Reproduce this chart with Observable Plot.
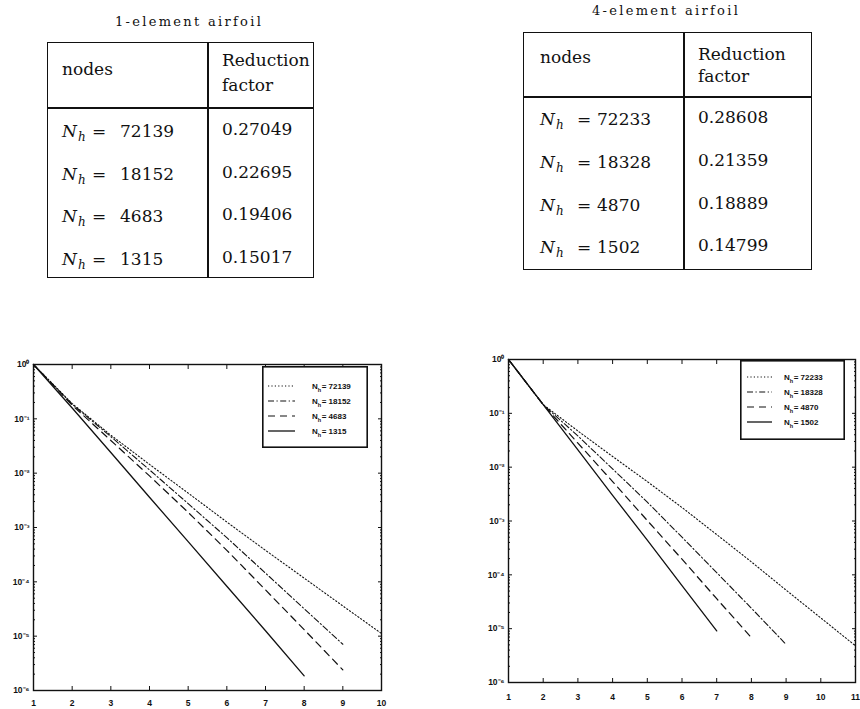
<!DOCTYPE html>
<html><head><meta charset="utf-8">
<script src="https://cdn.jsdelivr.net/npm/d3@7"></script>
<script src="https://cdn.jsdelivr.net/npm/@observablehq/plot@0.6"></script>
<style>
body{margin:0;background:#fff;width:860px;height:709px;position:relative;overflow:hidden;font-family:"DejaVu Serif",serif;color:#111}
.abs{position:absolute;white-space:nowrap;line-height:1}
.title{font-size:13px;letter-spacing:2.3px}
.cell{font-size:17px}
.sub{font-size:12px;font-style:italic;position:relative;top:4px;margin-left:1px}
.hl{position:absolute;background:#111}
.box{position:absolute;border:1.6px solid #111;box-sizing:border-box}
.plot{position:absolute}
</style></head>
<body>
<script>
// ---------- data ----------
const leftTitle = "1-element airfoil";
const rightTitle = "4-element airfoil";
const headNodes = "nodes";
const headFactor = ["Reduction", "factor"];
const leftNodes = [72139, 18152, 4683, 1315];
const leftFactors = ["0.27049", "0.22695", "0.19406", "0.15017"];
const rightNodes = [72233, 18328, 4870, 1502];
const rightFactors = ["0.28608", "0.21359", "0.18889", "0.14799"];

// residual histories (iteration 1, 2, 3, ...)
const left72139 = [1, 0.191, 0.050, 0.0145, 4.3e-3, 1.26e-3, 3.8e-4, 1.17e-4, 3.6e-5, 1.12e-5];
const left18152 = [1, 0.186, 0.047, 0.0115, 2.75e-3, 6.5e-4, 1.45e-4, 3.2e-5, 7.1e-6];
const left4683  = [1, 0.178, 0.040, 8.9e-3, 1.9e-3, 3.8e-4, 7.1e-5, 1.32e-5, 2.4e-6];
const left1315  = [1, 0.158, 0.024, 3.6e-3, 5.5e-4, 8.3e-5, 1.26e-5, 1.86e-6];
const right72233 = [1, 0.145, 0.047, 0.0158, 5.4e-3, 1.78e-3, 5.6e-4, 1.74e-4, 5.2e-5, 1.58e-5, 4.8e-6];
const right18328 = [1, 0.145, 0.038, 9.3e-3, 2.24e-3, 5.0e-4, 1.10e-4, 2.4e-5, 5.1e-6];
const right4870  = [1, 0.145, 0.028, 5.4e-3, 1.02e-3, 1.95e-4, 3.6e-5, 6.8e-6];
const right1502  = [1, 0.145, 0.021, 3.0e-3, 4.4e-4, 6.3e-5, 9.1e-6];

const leftTicksX = [1, 2, 3, 4, 5, 6, 7, 8, 9, 10];
const rightTicksX = [1, 2, 3, 4, 5, 6, 7, 8, 9, 10, 11];
const decadeTicks = [1e-6, 1e-5, 1e-4, 1e-3, 1e-2, 1e-1, 1];

// ---------- styles per series ----------
const styles = [
  {dash: "1.2,2.2", w: 1.1},
  {dash: "6,2.5,1.2,2.5", w: 1.1},
  {dash: "7,5", w: 1.2},
  {dash: null, w: 1.3}
];

const body = d3.select("body");

// ---------- tables ----------
function table(t) {
  body.append("div").attr("class", "abs title").style("left", t.titleX + "px").style("top", t.titleY + "px").text(t.title);
  body.append("div").attr("class", "box").style("left", t.x0 + "px").style("top", t.y0 + "px")
      .style("width", (t.x1 - t.x0) + "px").style("height", (t.y1 - t.y0) + "px");
  body.append("div").attr("class", "hl").style("left", (t.xd - 0.8) + "px").style("top", t.y0 + "px")
      .style("width", "1.6px").style("height", (t.y1 - t.y0) + "px");
  body.append("div").attr("class", "hl").style("left", t.x0 + "px").style("top", (t.yh - 0.8) + "px")
      .style("width", (t.x1 - t.x0) + "px").style("height", "1.6px");
  body.append("div").attr("class", "abs cell").style("left", t.nX + "px").style("top", t.nodesY + "px").text(headNodes);
  headFactor.forEach((s, i) => body.append("div").attr("class", "abs cell")
      .style("left", t.vX + "px").style("top", (t.redY + i * t.redDy) + "px").text(s));
  t.nodes.forEach((n, i) => {
    const y = t.rowY[i];
    const sym = body.append("div").attr("class", "abs cell").style("left", t.nX + "px").style("top", y + "px");
    sym.append("i").text("N");
    sym.append("span").attr("class", "sub").text("h");
    body.append("div").attr("class", "abs cell").style("left", t.eqX + "px").style("top", y + "px").text("=");
    body.append("div").attr("class", "abs cell").style("left", t.numX + "px").style("top", y + "px").text(String(n));
    body.append("div").attr("class", "abs cell").style("left", t.vX + "px").style("top", (y - 2) + "px").text(t.factors[i]);
  });
}
table({title: leftTitle, titleX: 115, titleY: 15, x0: 47, x1: 314, y0: 42, y1: 278, xd: 208, yh: 108,
  nX: 62, eqX: 92, numX: 120, vX: 222, nodesY: 61, redY: 52, redDy: 25,
  rowY: [123, 166, 208, 251], nodes: leftNodes, factors: leftFactors});
table({title: rightTitle, titleX: 592, titleY: 4, x0: 523, x1: 812, y0: 32, y1: 270, xd: 684, yh: 97,
  nX: 540, eqX: 577, numX: 597, vX: 698, nodesY: 49, redY: 46, redDy: 22,
  rowY: [111, 154, 197, 239], nodes: rightNodes, factors: rightFactors});

// ---------- plots ----------
const supMap = {"-": "\u207B", "0": "\u2070", "1": "\u00B9", "2": "\u00B2", "3": "\u00B3", "4": "\u2074", "5": "\u2075", "6": "\u2076"};
const fmtPow = d => "10" + String(Math.round(Math.log10(d))).split("").map(c => supMap[c]).join("");
const minorTicks = [];
for (let e = -6; e < 0; e++) for (let m = 2; m <= 9; m++) minorTicks.push(m * Math.pow(10, e));
const blank = () => "";

function chart(o) {
  const p = Plot.plot({
    width: o.width, height: o.height,
    marginLeft: o.ml, marginRight: o.mr, marginTop: o.mt, marginBottom: o.mb,
    style: {fontFamily: "'Liberation Sans', Arial, sans-serif", fontSize: "8.5px", fontWeight: "bold", color: "#111", background: "transparent", overflow: "visible"},
    x: {domain: o.xDomain},
    y: {type: "log", domain: [1e-6, 1]},
    marks: [
      Plot.axisX({ticks: o.xTicks, tickSize: 0, tickPadding: o.xPad, tickFormat: d => String(d), label: null}),
      Plot.axisX({ticks: o.xTicks, tickSize: -4, tickFormat: blank, label: null}),
      Plot.axisX({anchor: "top", ticks: o.xTicks, tickSize: -4, tickFormat: blank, label: null}),
      Plot.axisY({ticks: decadeTicks, tickSize: 0, tickPadding: 4, tickFormat: fmtPow, label: null}),
      Plot.axisY({ticks: decadeTicks, tickSize: -4, tickFormat: blank, label: null}),
      Plot.axisY({ticks: minorTicks, tickSize: -2, tickFormat: blank, label: null}),
      Plot.axisY({anchor: "right", ticks: decadeTicks, tickSize: -4, tickFormat: blank, label: null}),
      Plot.axisY({anchor: "right", ticks: minorTicks, tickSize: -2, tickFormat: blank, label: null}),
      Plot.frame({stroke: "#111", strokeWidth: 1.4}),
      ...o.series.map((s, j) => Plot.line(s.values.map((v, i) => ({k: i + 1, v})),
        {x: "k", y: "v", stroke: "#111", strokeWidth: styles[j].w, strokeDasharray: styles[j].dash}))
    ]
  });
  const wrap = body.append("div").attr("class", "plot").style("left", o.left + "px").style("top", o.top + "px");
  wrap.node().appendChild(p);

  // legend box
  const lg = o.legend;
  const svg = body.append("svg").attr("class", "plot").style("left", lg.x + "px").style("top", lg.y + "px")
    .attr("width", lg.w).attr("height", lg.h);
  svg.append("rect").attr("x", 0.8).attr("y", 0.8).attr("width", lg.w - 1.6).attr("height", lg.h - 1.6)
    .attr("fill", "#fff").attr("stroke", "#111").attr("stroke-width", 1.6);
  o.series.forEach((s, j) => {
    const y = lg.row0 + j * lg.dy;
    svg.append("line").attr("x1", lg.lx1).attr("x2", lg.lx2).attr("y1", y).attr("y2", y)
      .attr("stroke", "#111").attr("stroke-width", styles[j].w).attr("stroke-dasharray", styles[j].dash);
    const t = svg.append("text").attr("x", lg.tx).attr("y", y + 3)
      .attr("font-family", "'Liberation Sans', Arial, sans-serif").attr("font-weight", "bold").attr("font-size", 8).attr("fill", "#111");
    t.append("tspan").text("N");
    t.append("tspan").attr("dy", 3).attr("font-size", 5.5).text("h");
    t.append("tspan").attr("dy", -3).attr("dx", 0.5).text("= " + s.label);
  });
}

chart({left: 0, top: 354, width: 400, height: 355, ml: 33, mr: 19, mt: 10, mb: 19, xPad: 9,
  xDomain: [1, 10], xTicks: leftTicksX,
  series: [{label: leftNodes[0], values: left72139}, {label: leftNodes[1], values: left18152},
           {label: leftNodes[2], values: left4683}, {label: leftNodes[3], values: left1315}],
  legend: {x: 262, y: 366, w: 106, h: 82, row0: 20, dy: 15, lx1: 6, lx2: 33, tx: 50}});

chart({left: 470, top: 349, width: 390, height: 360, ml: 38, mr: 5, mt: 10, mb: 27, xPad: 11,
  xDomain: [1, 11], xTicks: rightTicksX,
  series: [{label: rightNodes[0], values: right72233}, {label: rightNodes[1], values: right18328},
           {label: rightNodes[2], values: right4870}, {label: rightNodes[3], values: right1502}],
  legend: {x: 740, y: 360, w: 105, h: 80, row0: 17, dy: 15, lx1: 7, lx2: 32, tx: 44}});
</script>
</body></html>
